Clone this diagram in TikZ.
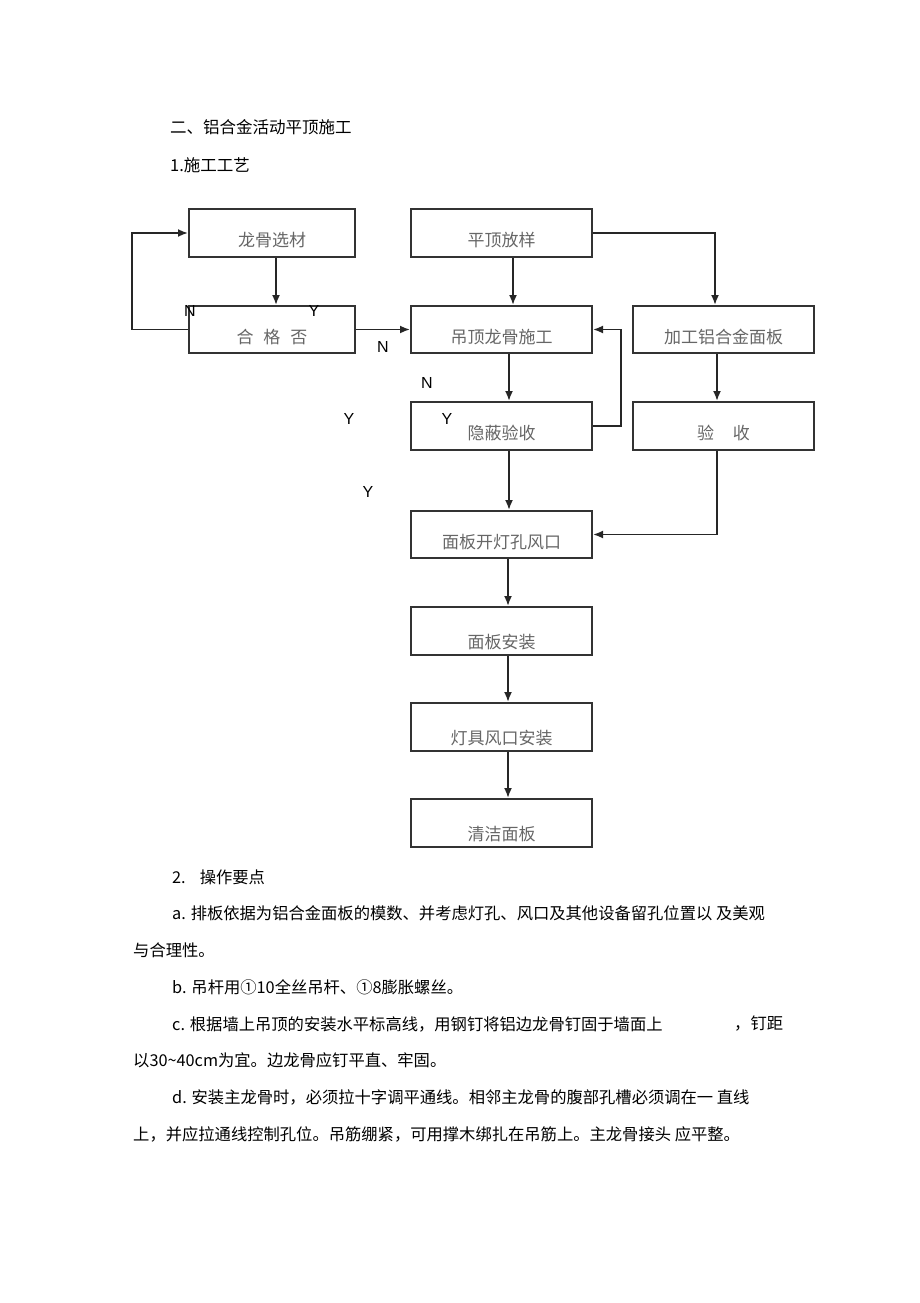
\documentclass[tikz,border=0pt]{standalone}
\usepackage{fontspec}
\usetikzlibrary{arrows.meta}
\newfontfamily\cjk{Noto Sans CJK SC}
\newfontfamily\arialfont{Liberation Sans}
\begin{document}
\begin{tikzpicture}
  [
  x=1pt,y=-1pt,
  box/.style={rectangle,draw=black!80,line width=2pt,inner sep=0pt,minimum width=181pt,minimum height=48pt,text height=27pt,text depth=0pt,text=black!60,font=\cjk\fontsize{17pt}{17pt}\selectfont},
  lowbox/.style={box,text height=34pt},
  flow/.style={-{Latex[length=10pt,width=8pt]},line width=1.8pt,draw=black!85},
  yn/.style={inner sep=0pt,font=\arialfont\fontsize{16pt}{16pt}\selectfont},
  para/.style={anchor=west,inner sep=0pt,font=\cjk\fontsize{16.3pt}{16.3pt}\selectfont}
  ]
  \useasboundingbox (0,0) rectangle (920,1303);

  % headings
  \node (title) at (170,127) [para,font=\cjk\fontsize{16.5pt}{16.5pt}\selectfont] {二、铝合金活动平顶施工};
  \node (sub1) at (170,165) [para,font=\cjk\fontsize{16.5pt}{16.5pt}\selectfont] {1.施工工艺};

  % flow chart
  \node (xuancai) at (272,233) [box,minimum width=166pt] {龙骨选材};
  \node (fangyang) at (501.5,233) [box] {平顶放样};
  \node (hege) at (272,329.5) [box,minimum width=166pt,minimum height=47pt] {合\hspace{10pt}格\hspace{10pt}否};
  \node (shigong) at (501.5,329.5) [box,minimum height=47pt] {吊顶龙骨施工};
  \node (jiagong) at (723.5,329.5) [box,minimum height=47pt] {加工铝合金面板};
  \node (yinbi) at (501.5,426) [box] {隐蔽验收};
  \node (yanshou) at (723.5,426) [box] {验\hspace{19pt}收};
  \node (kaikong) at (501.5,534.5) [box,minimum height=47pt] {面板开灯孔风口};
  \node (anzhuang) at (501.5,631) [lowbox] {面板安装};
  \node (dengju) at (501.5,727) [lowbox] {灯具风口安装};
  \node (qingjie) at (501.5,823) [lowbox] {清洁面板};

  \draw [flow] ([xshift=4pt]xuancai.south) to ([xshift=4pt]hege.north);
  \draw [flow] (hege.west) -- ++(-56,0) |- (xuancai.west);
  \draw [flow] (hege.east) to (shigong.west);
  \draw [flow] ([xshift=11.5pt]fangyang.south) to ([xshift=11.5pt]shigong.north);
  \draw [flow] (fangyang.east) -| ([xshift=-8.5pt]jiagong.north);
  \draw [flow] ([xshift=7.5pt]shigong.south) to ([xshift=7.5pt]yinbi.north);
  \draw [flow] (yinbi.east) -- ++(28,0) |- (shigong.east);
  \draw [flow] ([xshift=-6.5pt]jiagong.south) to ([xshift=-6.5pt]yanshou.north);
  \draw [flow] ([xshift=7.5pt]yinbi.south) to ([xshift=7.5pt]kaikong.north);
  \draw [flow] ([xshift=-6.5pt]yanshou.south) |- (kaikong.east);
  \draw [flow] ([xshift=6.5pt]kaikong.south) to ([xshift=6.5pt]anzhuang.north);
  \draw [flow] ([xshift=6.5pt]anzhuang.south) to ([xshift=6.5pt]dengju.north);
  \draw [flow] ([xshift=6.5pt]dengju.south) to ([xshift=6.5pt]qingjie.north);

  % Y / N marks
  \node (n1) at (190,311) [yn] {N};
  \node (y1) at (314,311) [yn] {Y};
  \node (n2) at (383,347) [yn] {N};
  \node (n3) at (427,383) [yn] {N};
  \node (y2) at (349,419) [yn] {Y};
  \node (y3) at (447,419) [yn] {Y};
  \node (y4) at (368,492) [yn] {Y};

  % key points
  \node (sub2) at (172,877) [para] {2.\hspace{14pt}操作要点};
  \node (pa) at (172,913) [para] {a. 排板依据为铝合金面板的模数、并考虑灯孔、风口及其他设备留孔位置以 及美观};
  \node (pa2) at (133,950) [para] {与合理性。};
  \node (pb) at (172,987) [para] {b. 吊杆用①10全丝吊杆、①8膨胀螺丝。};
  \node (pc) at (172,1024) [para] {c. 根据墙上吊顶的安装水平标高线，用钢钉将铝边龙骨钉固于墙面上};
  \node (pcx) at (734,1024) [para] {，钉距};
  \node (pc2) at (133,1060) [para] {以30\textasciitilde40cm为宜。边龙骨应钉平直、牢固。};
  \node (pd) at (172,1097) [para] {d. 安装主龙骨时，必须拉十字调平通线。相邻主龙骨的腹部孔槽必须调在一 直线};
  \node (pd2) at (133,1134) [para] {上，并应拉通线控制孔位。吊筋绷紧，可用撑木绑扎在吊筋上。主龙骨接头 应平整。};
\end{tikzpicture}
\end{document}
